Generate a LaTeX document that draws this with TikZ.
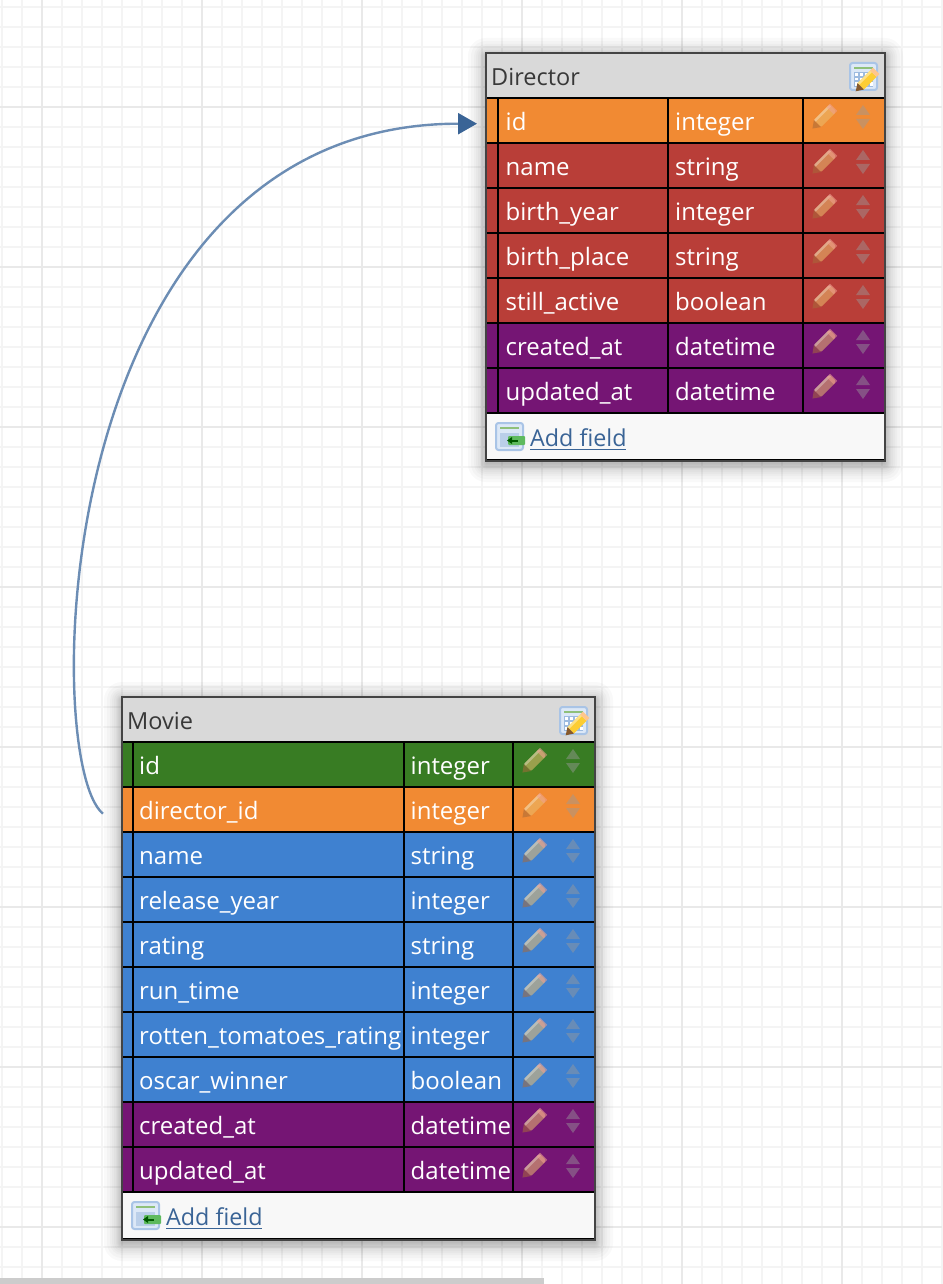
\documentclass[tikz,border=0pt]{standalone}
\usepackage{fontspec}
\setmainfont{Open Sans}
\usetikzlibrary{arrows.meta,calc}
\definecolor{cOrange}{HTML}{F18A33}
\definecolor{cRed}{HTML}{B93E38}
\definecolor{cPurple}{HTML}{751574}
\definecolor{cGreen}{HTML}{387C23}
\definecolor{cBlue}{HTML}{3F81D0}
\definecolor{cHead}{HTML}{D9D9D9}
\definecolor{cFoot}{HTML}{F8F8F8}
\definecolor{cEdge}{HTML}{444444}
\definecolor{cLink}{HTML}{3A6496}
\definecolor{cCurve}{HTML}{6C8DB4}
\definecolor{cMinor}{HTML}{F4F4F4}
\definecolor{cMajor}{HTML}{E9E9E9}
\definecolor{cPencil}{HTML}{EBBE6E}
\definecolor{cPencilTip}{HTML}{A86A3A}
\definecolor{cPencilEnd}{HTML}{F0A090}
\definecolor{cSort}{HTML}{9A9A9A}
\definecolor{cIconEdge}{HTML}{A9C4E6}
\definecolor{cIconFill}{HTML}{DCE8F7}
\definecolor{cIconGrid}{HTML}{9DBBE0}
\definecolor{cIconBar}{HTML}{8FC07A}
\tikzset{
  x=1pt,y=-1pt,
  cellbox/.style={rectangle,draw=none,minimum height=45pt,inner sep=0pt,anchor=north west},
  rowtxt/.style={anchor=base west,inner sep=0pt,text=white,font=\fontsize{24}{28}\selectfont},
  titletxt/.style={anchor=base west,inner sep=0pt,text=black!78,font=\fontsize{23.5}{28}\selectfont},
  linktxt/.style={anchor=base west,inner sep=0pt,text=cLink,font=\fontsize{23.3}{28}\selectfont},
  framebox/.style={rectangle,draw=none,inner sep=0pt,anchor=north west},
  relation/.style={draw=cCurve,line width=2.4pt,-{Triangle[length=19pt,width=21pt,fill=cLink,color=cLink]}},
}
% pencil + sort arrows drawn in a row's last cell: {x of cell left}{row top}
\newcommand{\rowicons}[2]{%
  \begin{scope}[shift={(#1+22,#2+18.5)}]
    \begin{scope}[rotate=45,opacity=.55]
      \fill[cPencil,rounded corners=1pt] (-10,-5) -- (10,-5) -- (12,-3) -- (12,3) -- (10,5) -- (-10,5) -- cycle;
      \fill[white,opacity=.3] (-10,-5) rectangle (12,-2.5);
      \fill[cPencilTip] (-10,-5) -- (-17,0) -- (-10,5) -- cycle;
      \fill[cPencilEnd] (8,-5) rectangle (13,5);
    \end{scope}
  \end{scope}
  \begin{scope}[shift={(#1+60.5,#2)},opacity=.45]
    \fill[cSort] (-7,17) -- (7,17) -- (0,7) -- cycle;
    \fill[cSort] (-7,21) -- (7,21) -- (0,31) -- cycle;
  \end{scope}}
% header icon: {right edge}{top}
\newcommand{\editicon}[2]{%
  \begin{scope}[shift={(#1-36,#2+9)}]
    \fill[cIconFill,draw=cIconEdge,line width=2pt,rounded corners=2.5pt] (1,1) rectangle (28,28);
    \fill[cIconBar] (5,5) rectangle (24,7);
    \fill[cIconGrid] (5,10) rectangle (24,25);
    \foreach \u in {5,10,15,20}{\fill[white] (\u+1,11) rectangle (\u+4,14);\fill[white] (\u+1,16) rectangle (\u+4,18.5);\fill[white] (\u+1,20.5) rectangle (\u+4,24);}
    \begin{scope}[shift={(18,18)},rotate=45]
      \fill[yellow!55!orange!80!white] (-9,-4.5) rectangle (9,4.5);
      \fill[white,opacity=.4] (-9,-4.5) rectangle (9,-2);
      \fill[brown!70!black] (-9,-4.5) -- (-16,0) -- (-9,4.5) -- cycle;
      \fill[orange!45!white] (9,-4.5) rectangle (13,4.5);
    \end{scope}
  \end{scope}}
% footer icon: {left}{footer top}
\newcommand{\addicon}[2]{%
  \begin{scope}[shift={(#1+9,#2+9)}]
    \fill[cIconFill,draw=cIconEdge,line width=2pt,rounded corners=2.5pt] (1,1) rectangle (28,28);
    \fill[cIconBar] (5,5) rectangle (24,7);
    \fill[cIconGrid!70!white] (5,11) rectangle (24,25);
    \fill[green!40!gray!90!white,rounded corners=1pt] (13,14) rectangle (30,23);
    \fill[green!35!black] (17,17.5) rectangle (23,19.5);
    \fill[green!35!black] (12,18.5) -- (17,15) -- (17,22) -- cycle;
  \end{scope}}
% soft shadow: {x0}{y0}{x1}{y1}
\newcommand{\softshadow}[4]{%
  \foreach \e in {18,15,12,10,8,6,5,4,3,2,1,0}{
    \fill[black,opacity=.022,rounded corners=\e pt] (#1-\e,#2-\e+3) rectangle (#3+\e,#4+\e+3);
  }}
% one row: {node prefix}{index}{top}{colour}{name}{type}{x0}{x1}{x2}{x3}{x4}
\newcommand{\fieldrow}[9]{\def\rp{#1}\def\ri{#2}\def\rt{#3}\def\rc{#4}\def\rn{#5}\def\ry{#6}\fieldrowB{#7}{#8}{#9}}
\newcommand{\fieldrowB}[5]{%
  \node[cellbox,fill=\rc,minimum width=#5-#1] (\rp\ri) at (#1,\rt) {};
  \node[cellbox,minimum width=#3-#2] (\rp\ri n) at (#2,\rt) {};
  \node[cellbox,minimum width=#4-#3] (\rp\ri t) at (#3,\rt) {};
  \draw[black,line width=2pt] (\rp\ri.north west) -- (\rp\ri.north east) (\rp\ri.south west) -- (\rp\ri.south east)
     (\rp\ri n.north west) -- (\rp\ri n.south west) (\rp\ri t.north west) -- (\rp\ri t.south west) (\rp\ri t.north east) -- (\rp\ri t.south east);
  \node[rowtxt] at (#2+\nameoff,\rt+32.5) {\rn};
  \node[rowtxt] at (#3+7,\rt+32.5) {\ry};
  \rowicons{#4}{\rt}}
\begin{document}
\begin{tikzpicture}
\useasboundingbox (0,0) rectangle (942,1284);
\fill[white] (0,0) rectangle (942,1284);
% grid
\foreach \k in {0,...,47}{\draw[cMinor,line width=2pt] (2+20*\k,0) -- (2+20*\k,1284);}
\foreach \k in {0,...,64}{\draw[cMinor,line width=2pt] (0,7+20*\k) -- (942,7+20*\k);}
\foreach \k in {0,...,5}{\draw[cMajor,line width=2pt] (42+160*\k,0) -- (42+160*\k,1284);}
\foreach \k in {0,...,7}{\draw[cMajor,line width=2pt] (0,107+160*\k) -- (942,107+160*\k);}
\fill[gray!40] (0,1278) rectangle (544,1284);
\softshadow{486}{53}{885}{461}
\softshadow{122}{697}{595}{1240}
% Director
\def\nameoff{8}
\node[framebox,fill=cHead,minimum width=399pt,minimum height=45pt] (dhead) at (486,53) {};
\node[titletxt] (dtitle) at (491,86) {Director};
\editicon{885}{53}
\fieldrow{d}{1}{98}{cOrange}{id}{integer}{487}{497.5}{668}{802.5}{884}
\fieldrow{d}{2}{143}{cRed}{name}{string}{487}{497.5}{668}{802.5}{884}
\fieldrow{d}{3}{188}{cRed}{birth\_year}{integer}{487}{497.5}{668}{802.5}{884}
\fieldrow{d}{4}{233}{cRed}{birth\_place}{string}{487}{497.5}{668}{802.5}{884}
\fieldrow{d}{5}{278}{cRed}{still\_active}{boolean}{487}{497.5}{668}{802.5}{884}
\fieldrow{d}{6}{323}{cPurple}{created\_at}{datetime}{487}{497.5}{668}{802.5}{884}
\fieldrow{d}{7}{368}{cPurple}{updated\_at}{datetime}{487}{497.5}{668}{802.5}{884}
\node[framebox,fill=cFoot,minimum width=397pt,minimum height=47pt] (dfoot) at (487,414) {};
\addicon{486}{413}
\node[linktxt] (dadd) at (530,446) {Add field};
\draw[cLink,line width=1.5pt] (dadd.base west)++(0,3.5) -- ++(96,0);
\draw[black,line width=2.5pt] (486,460) -- (885,460);
\draw[cEdge,line width=2.4pt] (486,53) rectangle (885,461);
% Movie
\def\nameoff{6.5}
\node[framebox,fill=cHead,minimum width=473pt,minimum height=45pt] (mhead) at (122,697) {};
\node[titletxt] (mtitle) at (127,729.5) {Movie};
\editicon{595}{697}
\fieldrow{m}{1}{742}{cGreen}{id}{integer}{123}{132.5}{403.5}{512.5}{594}
\fieldrow{m}{2}{787}{cOrange}{director\_id}{integer}{123}{132.5}{403.5}{512.5}{594}
\fieldrow{m}{3}{832}{cBlue}{name}{string}{123}{132.5}{403.5}{512.5}{594}
\fieldrow{m}{4}{877}{cBlue}{release\_year}{integer}{123}{132.5}{403.5}{512.5}{594}
\fieldrow{m}{5}{922}{cBlue}{rating}{string}{123}{132.5}{403.5}{512.5}{594}
\fieldrow{m}{6}{967}{cBlue}{run\_time}{integer}{123}{132.5}{403.5}{512.5}{594}
\fieldrow{m}{7}{1012}{cBlue}{rotten\_tomatoes\_rating}{integer}{123}{132.5}{403.5}{512.5}{594}
\fieldrow{m}{8}{1057}{cBlue}{oscar\_winner}{boolean}{123}{132.5}{403.5}{512.5}{594}
\fieldrow{m}{9}{1102}{cPurple}{created\_at}{datetime}{123}{132.5}{403.5}{512.5}{594}
\fieldrow{m}{10}{1147}{cPurple}{updated\_at}{datetime}{123}{132.5}{403.5}{512.5}{594}
\node[framebox,fill=cFoot,minimum width=471pt,minimum height=47pt] (mfoot) at (123,1193) {};
\addicon{122}{1192}
\node[linktxt] (madd) at (166,1225) {Add field};
\draw[cLink,line width=1.5pt] (madd.base west)++(0,3.5) -- ++(96,0);
\draw[black,line width=2.5pt] (122,1239) -- (595,1239);
\draw[cEdge,line width=2.4pt] (122,697) rectangle (595,1240);
% relation
\coordinate (fk) at ($(m2.west)+(-20,4)$);
\coordinate (pk) at ($(d1.west)+(-10,3)$);
\draw[relation] (fk) .. controls ($(fk)+(-63,-51)$) and ($(pk)+(-430,0)$) .. (pk);
\end{tikzpicture}
\end{document}
